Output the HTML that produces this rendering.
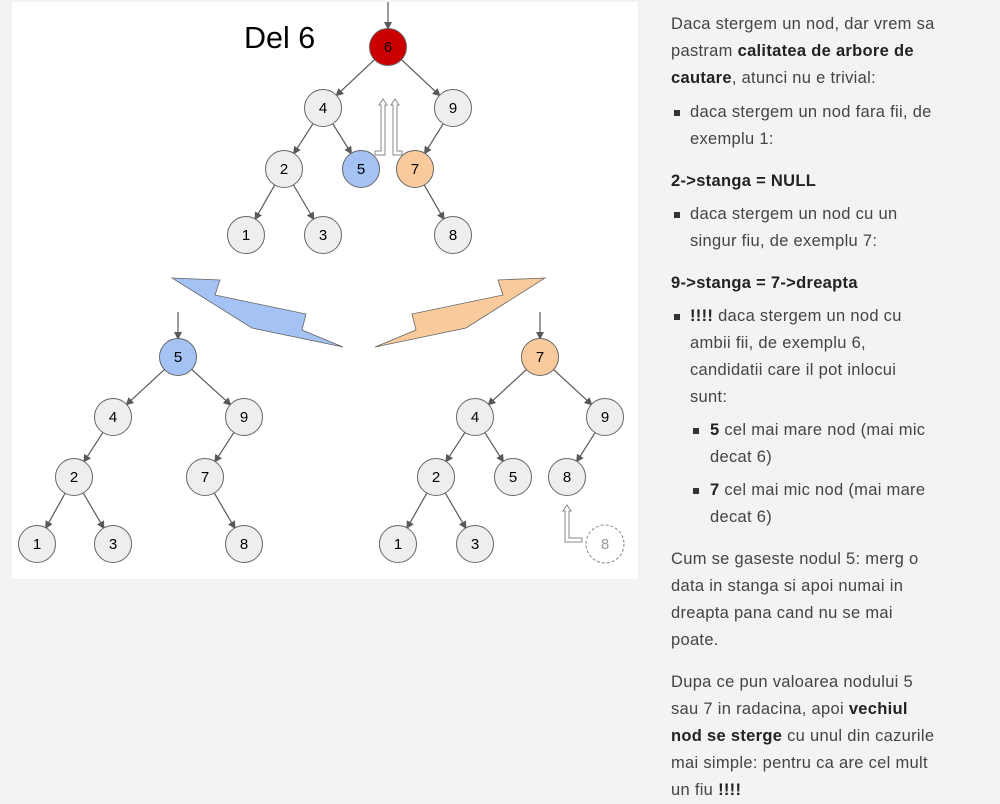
<!DOCTYPE html>
<html><head><meta charset="utf-8"><style>
html,body{margin:0;padding:0;background:#f3f3f3;width:1000px;height:800px;overflow:hidden}
#img{position:absolute;left:12px;top:2px;width:626px;height:577px;background:#fff}
svg{position:absolute;left:0;top:0}
#txt{position:absolute;left:671px;top:11px;width:320px;font-family:"Liberation Sans",sans-serif;font-size:16.5px;line-height:27px;color:#444;letter-spacing:0.3px}
#txt b{color:#222}
.p{margin:0}
.li{position:relative;padding-left:19px}
.li:before{content:"";position:absolute;left:3px;top:11px;width:6px;height:6px;background:#333}
.li2{position:relative;padding-left:39px}
.li2:before{content:"";position:absolute;left:22px;top:11px;width:6px;height:6px;background:#333}
</style></head><body>
<div id="img"></div>
<svg width="1000" height="800" viewBox="0 0 1000 800" font-family="Liberation Sans, sans-serif">
<defs><marker id="a" markerWidth="8" markerHeight="8" refX="7" refY="4" orient="auto" markerUnits="userSpaceOnUse"><path d="M0,0 L8,4 L0,8 z" fill="#595959"/></marker></defs>
<text x="244" y="48" font-size="30.5" fill="#000">Del 6</text>
<g stroke="#595959" stroke-width="1.2" marker-end="url(#a)">
<line x1="388" y1="2" x2="388" y2="29"/>
<line x1="374.9" y1="59.3" x2="336.1" y2="95.7"/>
<line x1="401.1" y1="59.3" x2="439.9" y2="95.7"/>
<line x1="313.3" y1="123.2" x2="293.7" y2="153.8"/>
<line x1="332.5" y1="123.3" x2="351.5" y2="153.7"/>
<line x1="443.5" y1="123.3" x2="424.5" y2="153.7"/>
<line x1="275" y1="184.6" x2="255" y2="219.4"/>
<line x1="293.2" y1="184.5" x2="313.8" y2="219.5"/>
<line x1="424" y1="184.6" x2="444" y2="219.4"/>
<line x1="178" y1="312" x2="178" y2="339"/>
<line x1="164.8" y1="369.2" x2="126.2" y2="404.8"/>
<line x1="191.3" y1="369.1" x2="230.7" y2="404.9"/>
<line x1="103.2" y1="432.1" x2="83.8" y2="461.9"/>
<line x1="234.2" y1="432.1" x2="214.8" y2="461.9"/>
<line x1="65.3" y1="492.8" x2="45.7" y2="528.2"/>
<line x1="83" y1="492.6" x2="104" y2="528.4"/>
<line x1="214" y1="492.6" x2="235" y2="528.4"/>
<line x1="540" y1="312" x2="540" y2="339"/>
<line x1="526.8" y1="369.2" x2="488.2" y2="404.8"/>
<line x1="553.2" y1="369.2" x2="591.8" y2="404.8"/>
<line x1="465.2" y1="432.1" x2="445.8" y2="461.9"/>
<line x1="484.6" y1="432.2" x2="503.4" y2="461.8"/>
<line x1="595.4" y1="432.2" x2="576.6" y2="461.8"/>
<line x1="427.1" y1="492.7" x2="406.9" y2="528.3"/>
<line x1="445" y1="492.6" x2="466" y2="528.4"/>
</g>
<g fill="#fff" stroke="#888" stroke-width="1">
<polygon points="383,99 387,105 385,105 385,155 375,155 375,151 381,151 381,105 379,105"/>
<polygon points="395,99 399,105 397,105 397,151 402,151 402,155 393,155 393,105 391,105"/>
<polygon points="567,505 571,511 569,511 569,538 582,538 582,542 565,542 565,511 563,511"/>
</g>
<polygon points="172,278 220,280 215,295 306,314 302,330 343,347 252,328" fill="#a4c2f4" stroke="#666" stroke-width="0.8"/>
<polygon points="545,278 498,280 503,295 412,314 416,330 375,347 466,328" fill="#f9cb9c" stroke="#666" stroke-width="0.8"/>
<g stroke="#666" stroke-width="1" fill="#eeeeee">
<circle cx="388" cy="47" r="18.5" fill="#cc0000"/>
<circle cx="323" cy="108" r="18.5"/><circle cx="453" cy="108" r="18.5"/>
<circle cx="284" cy="169" r="18.5"/><circle cx="361" cy="169" r="18.5" fill="#a4c2f4"/><circle cx="415" cy="169" r="18.5" fill="#f9cb9c"/>
<circle cx="246" cy="235" r="18.5"/><circle cx="323" cy="235" r="18.5"/><circle cx="453" cy="235" r="18.5"/>
<circle cx="178" cy="357" r="18.5" fill="#a4c2f4"/>
<circle cx="113" cy="417" r="18.5"/><circle cx="244" cy="417" r="18.5"/>
<circle cx="74" cy="477" r="18.5"/><circle cx="205" cy="477" r="18.5"/>
<circle cx="37" cy="544" r="18.5"/><circle cx="113" cy="544" r="18.5"/><circle cx="244" cy="544" r="18.5"/>
<circle cx="540" cy="357" r="18.5" fill="#f9cb9c"/>
<circle cx="475" cy="417" r="18.5"/><circle cx="605" cy="417" r="18.5"/>
<circle cx="436" cy="477" r="18.5"/><circle cx="513" cy="477" r="18.5"/><circle cx="567" cy="477" r="18.5"/>
<circle cx="398" cy="544" r="18.5"/><circle cx="475" cy="544" r="18.5"/>
<circle cx="605" cy="544" r="19" fill="#fff" stroke="#888" stroke-dasharray="3,2"/>
</g>
<g font-size="15" text-anchor="middle" fill="#000">
<text x="388" y="52">6</text>
<text x="323" y="113">4</text><text x="453" y="113">9</text>
<text x="284" y="174">2</text><text x="361" y="174">5</text><text x="415" y="174">7</text>
<text x="246" y="240">1</text><text x="323" y="240">3</text><text x="453" y="240">8</text>
<text x="178" y="362">5</text>
<text x="113" y="422">4</text><text x="244" y="422">9</text>
<text x="74" y="482">2</text><text x="205" y="482">7</text>
<text x="37" y="549">1</text><text x="113" y="549">3</text><text x="244" y="549">8</text>
<text x="540" y="362">7</text>
<text x="475" y="422">4</text><text x="605" y="422">9</text>
<text x="436" y="482">2</text><text x="513" y="482">5</text><text x="567" y="482">8</text>
<text x="398" y="549">1</text><text x="475" y="549">3</text>
<text x="605" y="549" fill="#999">8</text>
</g>
</svg>
<div id="txt">
<div class="p" style="margin-bottom:7px">Daca stergem un nod, dar vrem sa<br>pastram <b>calitatea de arbore de<br>cautare</b>, atunci nu e trivial:</div>
<div class="li" style="margin-bottom:15px">daca stergem un nod fara fii, de<br>exemplu 1:</div>
<div class="p" style="margin-bottom:6px"><b>2-&gt;stanga = NULL</b></div>
<div class="li" style="margin-bottom:15px">daca stergem un nod cu un<br>singur fiu, de exemplu 7:</div>
<div class="p" style="margin-bottom:6px"><b>9-&gt;stanga = 7-&gt;dreapta</b></div>
<div class="li" style="margin-bottom:6px"><b>!!!!</b> daca stergem un nod cu<br>ambii fii, de exemplu 6,<br>candidatii care il pot inlocui<br>sunt:</div>
<div class="li2" style="margin-bottom:6px"><b>5</b> cel mai mare nod (mai mic<br>decat 6)</div>
<div class="li2" style="margin-bottom:15px"><b>7</b> cel mai mic nod (mai mare<br>decat 6)</div>
<div class="p" style="margin-bottom:15px">Cum se gaseste nodul 5: merg o<br>data in stanga si apoi numai in<br>dreapta pana cand nu se mai<br>poate.</div>
<div class="p">Dupa ce pun valoarea nodului 5<br>sau 7 in radacina, apoi <b>vechiul<br>nod se sterge</b> cu unul din cazurile<br>mai simple: pentru ca are cel mult<br>un fiu <b>!!!!</b></div>
</div>
</body></html>
